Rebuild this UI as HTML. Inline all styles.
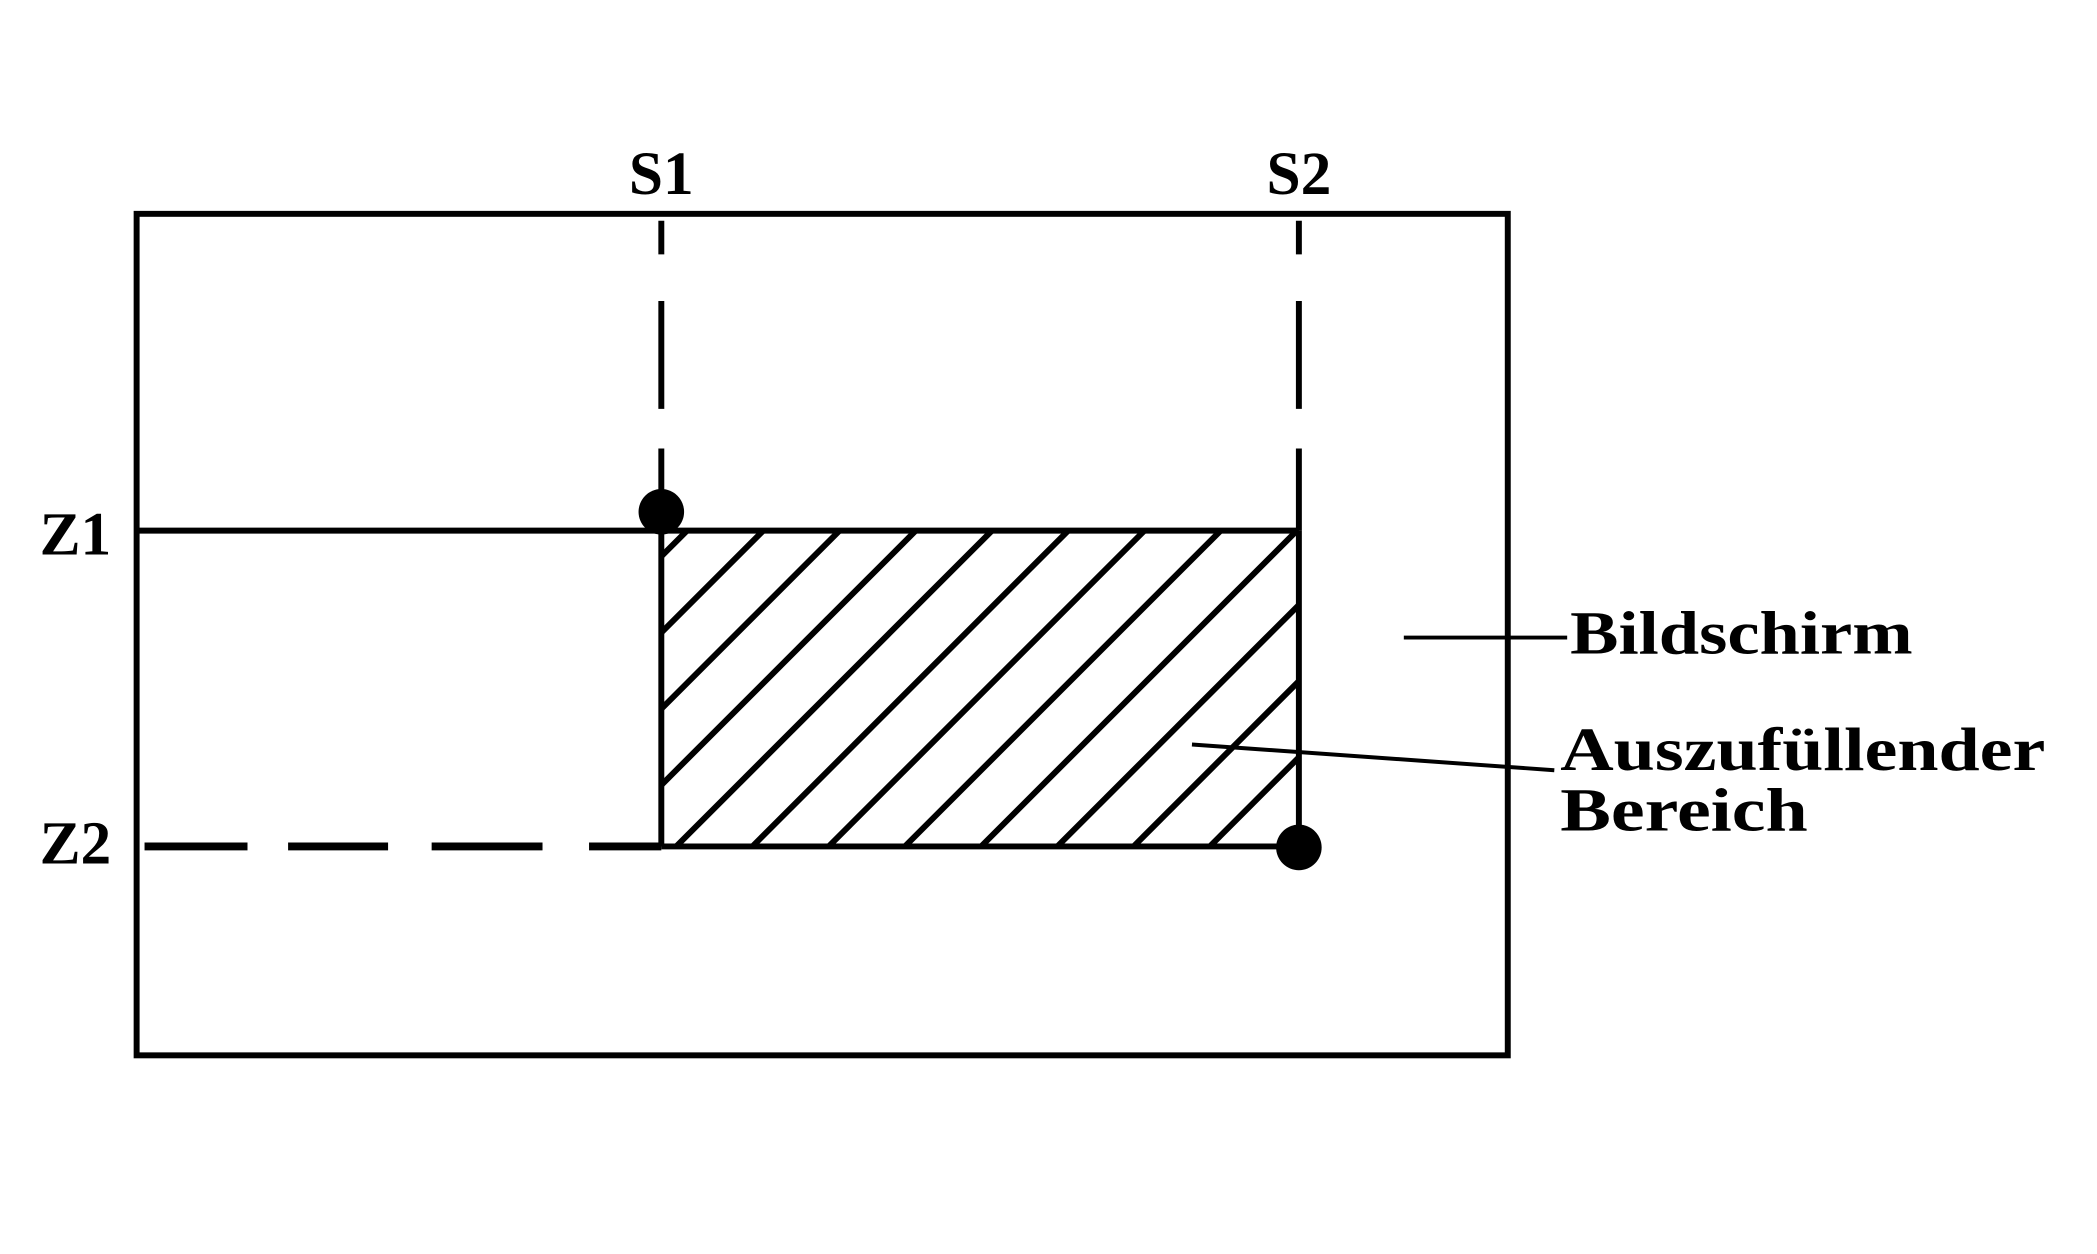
<!DOCTYPE html>
<html><head><style>body{margin:0;background:#fff}svg{display:block}</style></head><body>
<svg width="2097" height="1254" viewBox="0 0 2097 1254" xmlns="http://www.w3.org/2000/svg">
<defs><clipPath id="c"><rect x="668" y="536" width="644" height="319"/></clipPath></defs>
<g transform="scale(0.99)">
<g stroke="#000" stroke-width="6" fill="none">
<rect x="138" y="216" width="1385" height="850"/>
<line x1="138" y1="536" x2="1312" y2="536"/>
<line x1="668" y1="855" x2="1312" y2="855"/>
<line x1="668" y1="536" x2="668" y2="855"/>
<line x1="1312" y1="536" x2="1312" y2="855"/>
<line x1="668" y1="223" x2="668" y2="257"/><line x1="668" y1="304" x2="668" y2="413"/><line x1="668" y1="453" x2="668" y2="503"/>
<line x1="1312" y1="223" x2="1312" y2="257"/><line x1="1312" y1="304" x2="1312" y2="413"/><line x1="1312" y1="453" x2="1312" y2="536"/>
<line x1="146" y1="855" x2="250" y2="855" stroke-width="8"/><line x1="291" y1="855" x2="392" y2="855" stroke-width="8"/><line x1="436" y1="855" x2="548" y2="855" stroke-width="8"/><line x1="595" y1="855" x2="668" y2="855" stroke-width="8"/>
<g clip-path="url(#c)">
<line x1="694" y1="536" x2="375" y2="855"/><line x1="771" y1="536" x2="452" y2="855"/><line x1="848" y1="536" x2="529" y2="855"/><line x1="925" y1="536" x2="606" y2="855"/><line x1="1002" y1="536" x2="683" y2="855"/><line x1="1079" y1="536" x2="760" y2="855"/><line x1="1156" y1="536" x2="837" y2="855"/><line x1="1233" y1="536" x2="914" y2="855"/><line x1="1310" y1="536" x2="991" y2="855"/><line x1="1387" y1="536" x2="1068" y2="855"/><line x1="1464" y1="536" x2="1145" y2="855"/><line x1="1541" y1="536" x2="1222" y2="855"/><line x1="1618" y1="536" x2="1299" y2="855"/>
</g>
<line x1="1418" y1="644" x2="1583" y2="644" stroke-width="4"/>
<line x1="1204" y1="752" x2="1570" y2="778" stroke-width="4"/>
</g>
<circle cx="668" cy="517" r="23"/>
<circle cx="1312" cy="856" r="23"/>
<g font-family="Liberation Serif, serif" font-weight="bold" font-size="62" fill="#000">
<text x="668" y="196" text-anchor="middle">S1</text>
<text x="1312" y="196" text-anchor="middle">S2</text>
<text x="40" y="560">Z1</text>
<text x="40" y="872">Z2</text>
<text x="1586" y="660" textLength="346" lengthAdjust="spacingAndGlyphs">Bildschirm</text>
<text x="1576" y="778" textLength="490" lengthAdjust="spacingAndGlyphs">Auszufüllender</text>
<text x="1576" y="839" textLength="250" lengthAdjust="spacingAndGlyphs">Bereich</text>
</g>
</g>
</svg>
</body></html>
